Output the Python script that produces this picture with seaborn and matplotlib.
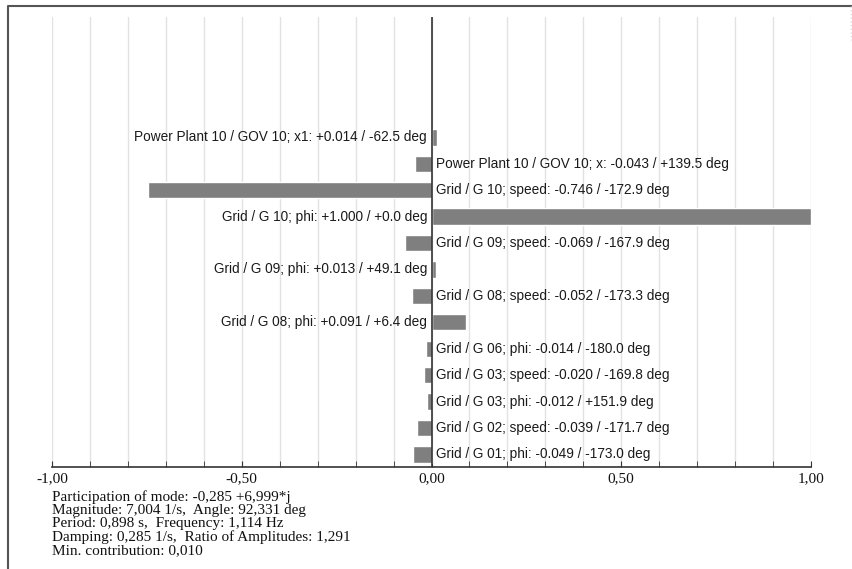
import matplotlib
matplotlib.use("Agg")
import matplotlib.pyplot as plt
from matplotlib.lines import Line2D
from matplotlib.ticker import MultipleLocator, FuncFormatter
import seaborn as sns
import pandas as pd

# participation factors (magnitude sign-adjusted) and their descriptions
names = [
    "Power Plant 10 / GOV 10; x1",
    "Power Plant 10 / GOV 10; x",
    "Grid / G 10; speed",
    "Grid / G 10; phi",
    "Grid / G 09; speed",
    "Grid / G 09; phi",
    "Grid / G 08; speed",
    "Grid / G 08; phi",
    "Grid / G 06; phi",
    "Grid / G 03; speed",
    "Grid / G 03; phi",
    "Grid / G 02; speed",
    "Grid / G 01; phi",
]
values = [0.014, -0.043, -0.746, 1.000, -0.069, 0.013, -0.052, 0.091,
          -0.014, -0.020, -0.012, -0.039, -0.049]
angles = [-62.5, 139.5, -172.9, 0.0, -167.9, 49.1, -173.3, 6.4,
          -180.0, -169.8, 151.9, -171.7, -173.0]

info_lines = [
    "Participation of mode: -0,285 +6,999*j",
    "Magnitude: 7,004 1/s,  Angle: 92,331 deg",
    "Period: 0,898 s,  Frequency: 1,114 Hz",
    "Damping: 0,285 1/s,  Ratio of Amplitudes: 1,291",
    "Min. contribution: 0,010",
]

W, H = 852, 569
BAR = "#7f7f7f"


def main():
    sns.set_style("white")
    plt.rcParams["font.family"] = ["Liberation Sans", "DejaVu Sans"]

    df = pd.DataFrame({"name": names, "value": values, "angle": angles})
    df["label"] = [f"{n}: {v:+.3f} / {a:+.1f} deg"
                   for n, v, a in zip(df["name"], df["value"], df["angle"])]

    fig = plt.figure(figsize=(W / 100, H / 100), dpi=100)
    ax = fig.add_axes([52 / W, 1 - 467 / H, 759 / W, 450 / H])

    sns.barplot(data=df, x="value", y="label", orient="h", color=BAR,
                width=0.62, saturation=1, ax=ax, zorder=3)

    ax.set_xlim(-1, 1)
    ax.set_ylim(12.48, -4.56)
    ax.set_yticks([])
    ax.set_xlabel("")
    ax.set_ylabel("")

    for s in ["top", "right", "left"]:
        ax.spines[s].set_visible(False)
    ax.spines["bottom"].set_color("#333333")
    ax.spines["bottom"].set_linewidth(1.2)
    ax.axvline(0, color="#333333", lw=1.2, zorder=4)

    ax.xaxis.set_major_locator(MultipleLocator(0.5))
    ax.xaxis.set_minor_locator(MultipleLocator(0.1))
    ax.xaxis.set_major_formatter(
        FuncFormatter(lambda v, p: f"{v:.2f}".replace(".", ",").replace("-0,00", "0,00")))
    ax.tick_params(axis="x", which="both", direction="in", length=4,
                   color="#333333", bottom=True, pad=4)
    for t in ax.get_xticklabels():
        t.set_fontfamily("Liberation Serif")
        t.set_fontsize(11)
        t.set_color("#111111")
    ax.grid(True, axis="x", which="both", color="#e2e2e2", lw=1, zorder=0)
    ax.set_axisbelow(True)

    for i, (v, lab) in enumerate(zip(df["value"], df["label"])):
        if v > 0:
            ax.annotate(lab, (0, i), xytext=(-3.2, 0), textcoords="offset points",
                        ha="right", va="center", fontsize=9.8, color="#1a1a1a")
        else:
            ax.annotate(lab, (0, i), xytext=(3.5, 0), textcoords="offset points",
                        ha="left", va="center", fontsize=9.8, color="#1a1a1a")

    for k, line in enumerate(info_lines):
        fig.text(52 / W, 1 - (497 + 13.3 * k) / H, line, ha="left", va="center",
                 fontsize=11, family="Liberation Serif", color="#111111")

    # outer frame
    fig.add_artist(Line2D([8 / W, 8 / W, 1.0], [0, 1 - 6 / H, 1 - 6 / H],
                          transform=fig.transFigure, color="#555555", lw=1.5))
    fig.add_artist(Line2D([851 / W, 851 / W], [1 - 6 / H, 1 - 40 / H],
                          transform=fig.transFigure, color="#dddddd", lw=1, ls=":"))

    fig.savefig("out.png", dpi=100)
    plt.close(fig)


if __name__ == "__main__":
    main()
